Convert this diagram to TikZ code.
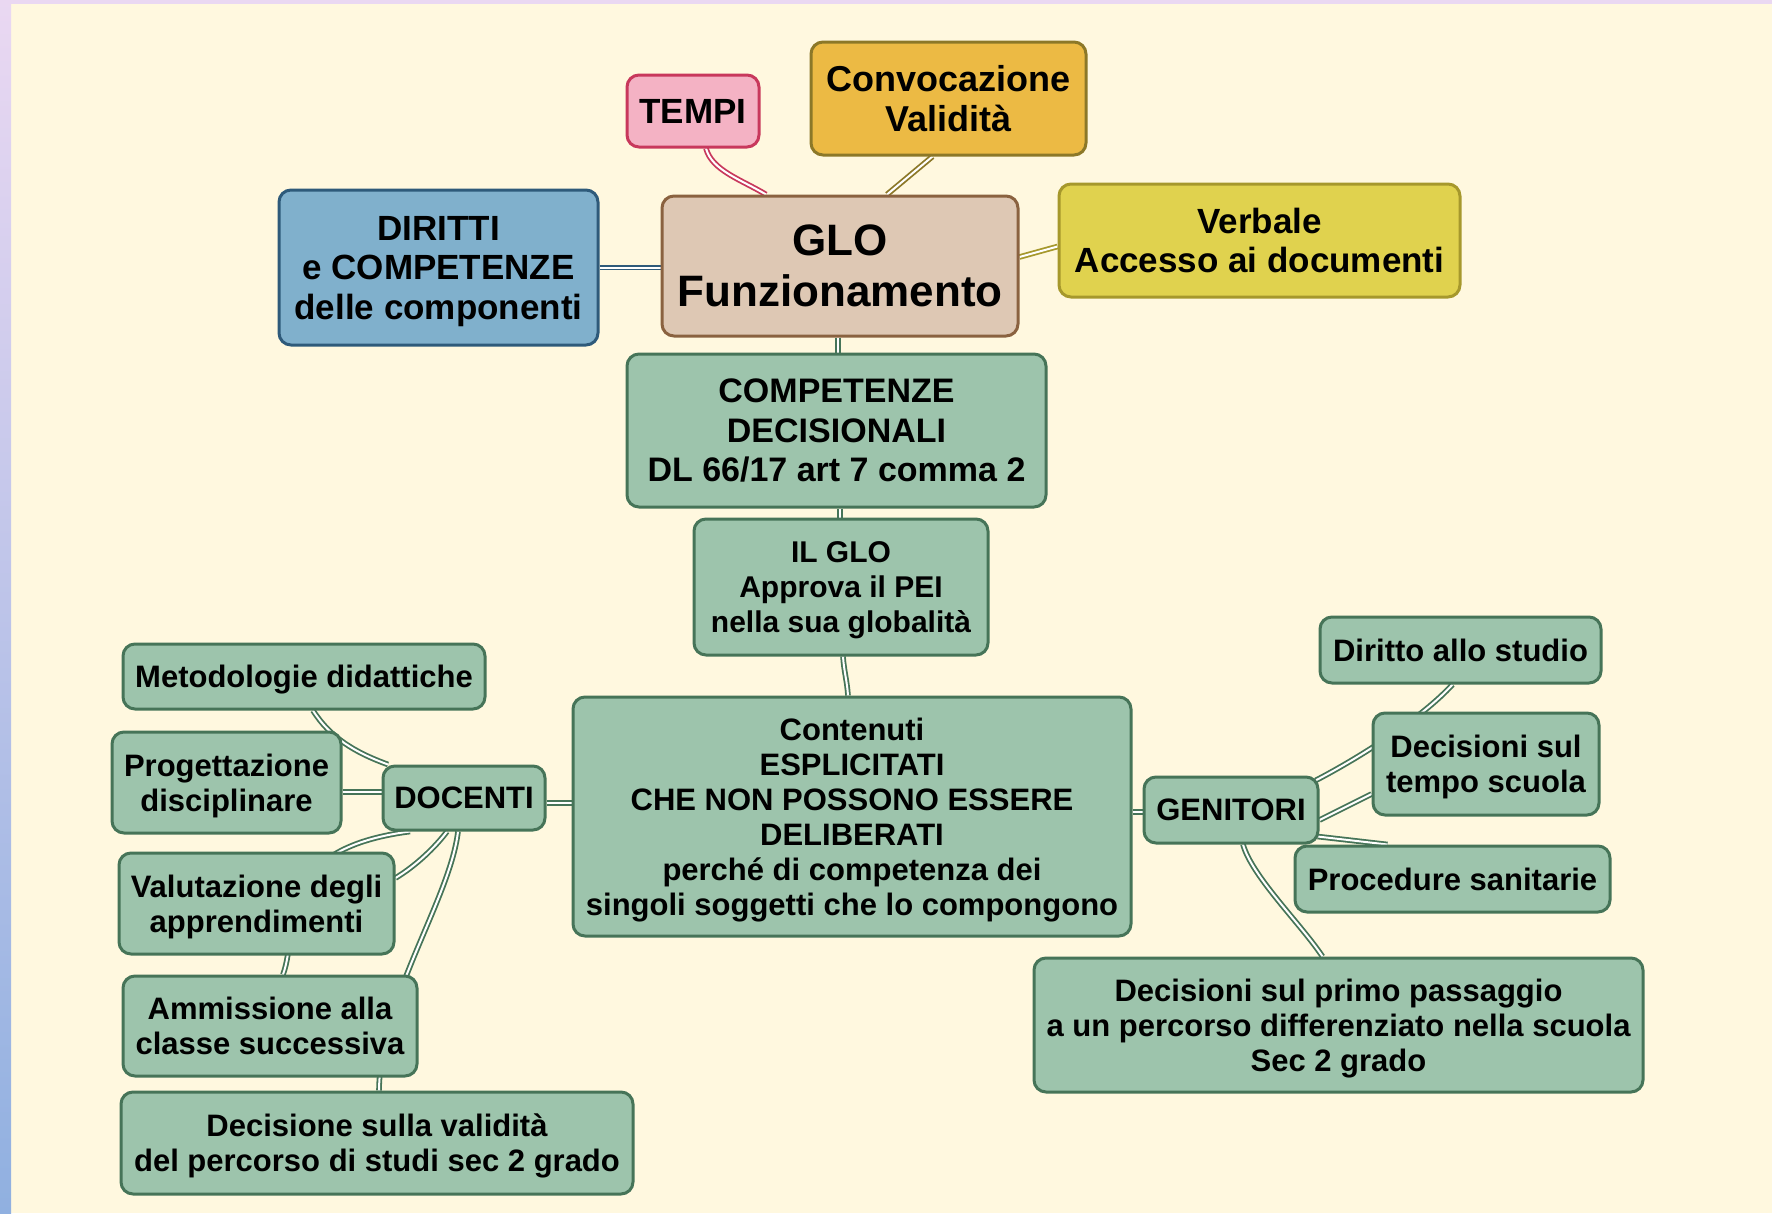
\documentclass[tikz,border=0pt]{standalone}
\usepackage{fontspec}
\setmainfont{Liberation Sans}
\usetikzlibrary{calc}
\pgfdeclarelayer{back}
\pgfdeclarelayer{links}
\pgfsetlayers{back,links,main}
\definecolor{cream}{RGB}{255,248,223}
\definecolor{lav}{RGB}{234,216,242}
\definecolor{lblue}{RGB}{144,176,224}
\definecolor{gfill}{RGB}{157,196,172}
\definecolor{gline}{RGB}{70,116,88}
\definecolor{bfill}{RGB}{128,176,204}
\definecolor{bline}{RGB}{46,90,122}
\definecolor{brfill}{RGB}{222,200,180}
\definecolor{brline}{RGB}{138,98,64}
\definecolor{pfill}{RGB}{244,178,196}
\definecolor{pline}{RGB}{200,56,92}
\definecolor{ofill}{RGB}{236,186,68}
\definecolor{oline}{RGB}{140,120,40}
\definecolor{yfill}{RGB}{224,210,78}
\definecolor{yline}{RGB}{166,152,44}
\begin{document}
\begin{tikzpicture}[x=1pt,y=-1pt,
  box/.style={draw, rounded corners=12pt, line width=3pt, align=center, inner sep=0pt, text depth=0pt, text=black},
  gbox/.style={box, fill=gfill, draw=gline, font=\bfseries\fontsize{31}{35}\selectfont},
  topbox/.style={box, font=\bfseries\fontsize{35}{39.5}\selectfont},
  link/.style={line width=1.8pt, double=white, double distance=2pt},
  glink/.style={link, draw=gline}]
\useasboundingbox (0,0) rectangle (1772,1213);
\begin{pgfonlayer}{back}
\fill[cream] (0,0) rectangle (1772,1213);
\shade[top color=lav, bottom color=lblue] (0,0) rectangle (11,1213);
\fill[lav] (0,0) rectangle (1772,4);
\end{pgfonlayer}
% nodes
\node[topbox, fill=pfill, draw=pline, minimum width=132pt, minimum height=72pt] (tempi) at (693,111) {TEMPI};
\node[topbox, fill=ofill, draw=oline, minimum width=275pt, minimum height=113pt, font=\bfseries\fontsize{36}{39.5}\selectfont] (conv) at (948.5,98.5) {Convocazione\\Validità};
\node[box, fill=brfill, draw=brline, minimum width=356pt, minimum height=140pt, font=\bfseries\fontsize{44}{51}\selectfont] (glo) at (840,266) {GLO\\Funzionamento};
\node[topbox, fill=yfill, draw=yline, minimum width=401pt, minimum height=113pt] (verb) at (1259.5,240.5) {Verbale\\Accesso ai documenti};
\node[topbox, fill=bfill, draw=bline, minimum width=319pt, minimum height=155pt] (dir) at (438.5,267.5) {DIRITTI\\e COMPETENZE\\delle componenti};
\node[topbox, fill=gfill, draw=gline, minimum width=419pt, minimum height=153pt, font=\bfseries\fontsize{34}{39.5}\selectfont] (comp) at (836.5,430.5) {COMPETENZE\\DECISIONALI\\DL 66/17 art 7 comma 2};
\node[gbox, minimum width=294pt, minimum height=136pt, font=\bfseries\fontsize{30}{35}\selectfont] (ilglo) at (841,587) {IL GLO\\Approva il PEI\\nella sua globalità};
\node[gbox, minimum width=558pt, minimum height=239pt] (cont) at (852,816.5) {Contenuti\\ESPLICITATI\\CHE NON POSSONO ESSERE\\DELIBERATI\\perché di competenza dei\\singoli soggetti che lo compongono};
\node[gbox, minimum width=162pt, minimum height=64pt] (doc) at (464,798) {DOCENTI};
\node[gbox, minimum width=362pt, minimum height=65pt] (metod) at (304,676.5) {Metodologie didattiche};
\node[gbox, minimum width=229pt, minimum height=101pt] (prog) at (226.5,782.5) {Progettazione\\disciplinare};
\node[gbox, minimum width=275pt, minimum height=101pt] (valut) at (256.5,903.5) {Valutazione degli\\apprendimenti};
\node[gbox, minimum width=294pt, minimum height=100pt] (amm) at (270,1026) {Ammissione alla\\classe successiva};
\node[gbox, minimum width=512pt, minimum height=102pt] (decval) at (377,1143) {Decisione sulla validità\\del percorso di studi sec 2 grado};
\node[gbox, minimum width=174pt, minimum height=66pt] (gen) at (1231,810) {GENITORI};
\node[gbox, minimum width=281pt, minimum height=66pt] (dir2) at (1460.5,650) {Diritto allo studio};
\node[gbox, minimum width=226pt, minimum height=102pt] (dtempo) at (1486,764) {Decisioni sul\\tempo scuola};
\node[gbox, minimum width=315pt, minimum height=66pt] (proc) at (1452.5,879) {Procedure sanitarie};
\node[gbox, minimum width=609pt, minimum height=134pt] (dprimo) at (1338.5,1025) {Decisioni sul primo passaggio\\a un percorso differenziato nella scuola\\Sec 2 grado};
% connectors
\begin{pgfonlayer}{links}
\draw[link, draw=pline] ([xshift=13pt]tempi.south) .. controls +(6,22) and +(-25,-15) .. ([xshift=-74pt]glo.north);
\draw[link, draw=oline] ([xshift=-16pt]conv.south) -- ([xshift=47pt]glo.north);
\draw[link, draw=yline] ([yshift=-6pt]verb.west) -- ([yshift=9pt]glo.east);
\draw[link, draw=bline] (dir.east) -- (dir.east -| glo.west);
\draw[glink] ([xshift=-2pt]glo.south) -- ([xshift=1.5pt]comp.north);
\draw[glink] ([xshift=3.5pt]comp.south) -- ([xshift=-1pt]ilglo.north);
\draw[glink] ([xshift=2pt]ilglo.south) .. controls +(1,15) and +(-1,-15) .. ([xshift=-4pt]cont.north);
\draw[glink] ([yshift=-5pt]doc.east) -- ([yshift=-5pt]doc.east -| cont.west);
\draw[glink] ([yshift=-2pt]gen.west) -- ([yshift=-2pt]gen.west -| cont.east);
\draw[glink] ([xshift=9pt]metod.south) .. controls +(17,27) and +(-33,-12) .. ([xshift=-76pt]doc.north);
\draw[glink] ([yshift=-9.5pt]prog.east) -- ([yshift=-9.5pt]prog.east -| doc.west);
\draw[glink] ([xshift=-54pt]doc.south) .. controls +(-140,18) and +(17,-46) .. ([xshift=13pt]amm.north);
\draw[glink] ([xshift=-17pt]doc.south) .. controls +(-12,16) and +(20,-12) .. ([yshift=25.5pt]valut.east);
\draw[glink] ([xshift=-6pt]doc.south) .. controls +(-8,68) and +(1,-92) .. ([xshift=2pt]decval.north);
\draw[glink] ($(gen.north east)+(-4,5)$) .. controls +(46,-24) and +(-30,33) .. ([xshift=-8pt]dir2.south);
\draw[glink] ([yshift=-10pt]gen.east) -- ([yshift=-30pt]dtempo.west);
\draw[glink] ($(gen.south east)+(-2,-8)$) -- ([xshift=-65pt]proc.north);
\draw[glink] ([xshift=12pt]gen.south) .. controls +(9,32) and +(-22,-33) .. ([xshift=-16pt]dprimo.north);
\end{pgfonlayer}
\end{tikzpicture}
\end{document}
